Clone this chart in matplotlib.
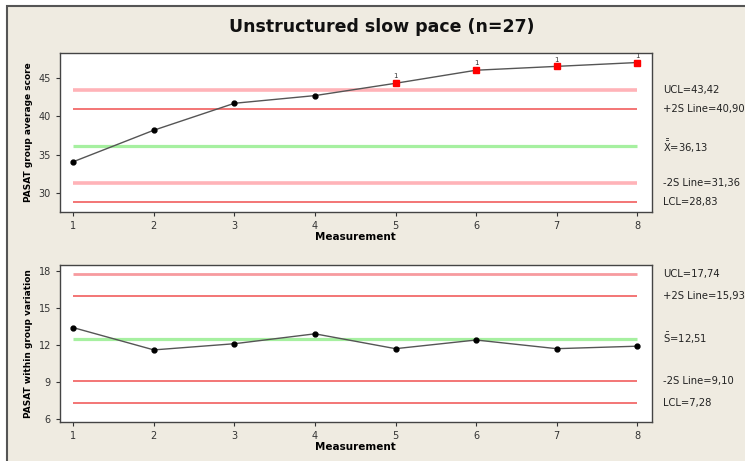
import numpy as np
import matplotlib
matplotlib.use("Agg")
from matplotlib import pyplot as plt
from matplotlib.patches import Rectangle

# Xbar-S chart data, 8 measurements
measurement = [1, 2, 3, 4, 5, 6, 7, 8]
group_mean = [34.1, 38.2, 41.7, 42.7, 44.3, 46.0, 46.5, 47.0]
group_sd = [13.4, 11.6, 12.1, 12.9, 11.7, 12.4, 11.7, 11.9]

# control limits (UCL, +2S, centre, -2S, LCL)
xbar_limits = [43.42, 40.90, 36.13, 31.36, 28.83]
xbar_labels = ["UCL=43,42", "+2S Line=40,90", r"$\bar{\bar{\mathrm{X}}}$=36,13", "-2S Line=31,36", "LCL=28,83"]
s_limits = [17.74, 15.93, 12.51, 9.10, 7.28]
s_labels = ["UCL=17,74", "+2S Line=15,93", r"$\bar{\mathrm{S}}$=12,51", "-2S Line=9,10", "LCL=7,28"]

# points flagged by test 1 on the mean chart
flagged = [5, 6, 7, 8]

bg = "#efebe1"
limit_styles = [("#ffb3b8", 2.6), ("#f26a6a", 1.3), ("#a6f0a0", 2.3), ("#ffb3b8", 2.6), ("#f26a6a", 1.3)]
s_styles = [("#f79a9f", 2.0), ("#f26a6a", 1.3), ("#a6f0a0", 2.3), ("#f26a6a", 1.3), ("#f26a6a", 1.3)]

fig = plt.figure(figsize=(7.45, 4.61), dpi=100, facecolor="white")
fig.patches.append(Rectangle((7 / 745, -0.1), 1.0, 1 - 6 / 461 + 0.1, transform=fig.transFigure,
                             facecolor=bg, edgecolor="#555555", linewidth=1.5, zorder=-1))

fig.text(382 / 745, 1 - 27 / 461, "Unstructured slow pace (n=27)", ha="center", va="center",
         fontsize=12.5, fontweight="bold", color="#111111")


def draw_panel(ax, y, limits, labels, styles, ylim, yticks, ylabel, flags):
    ax.set_facecolor("white")
    for val, (c, lw) in zip(limits, styles):
        ax.plot([1, 8], [val, val], color=c, lw=lw, solid_capstyle="butt", zorder=1)
    for val, lab in zip(limits, labels):
        ax.annotate(lab, xy=(1, val), xycoords=("axes fraction", "data"), xytext=(8, 0),
                    textcoords="offset points", va="center", ha="left", fontsize=7.2,
                    color="#222222", annotation_clip=False)
    ax.plot(measurement, y, color="#555555", lw=1.0, zorder=2)
    normal = [(m, v) for m, v in zip(measurement, y) if m not in flags]
    ax.plot([p[0] for p in normal], [p[1] for p in normal], "o", color="black", ms=3.5, zorder=3)
    for m, v in zip(measurement, y):
        if m in flags:
            ax.plot(m, v, "s", color="red", ms=5, zorder=3)
            ax.text(m, v + 0.5, "1", ha="center", va="bottom", fontsize=5, color="#333333")
    ax.set_xlim(0.835, 8.18)
    ax.set_ylim(*ylim)
    ax.set_xticks(measurement)
    ax.set_yticks(yticks)
    ax.tick_params(labelsize=7, length=3, width=0.8, colors="#333333")
    ax.set_xlabel("Measurement", fontsize=7.5, fontweight="bold", labelpad=1)
    ax.set_ylabel(ylabel, fontsize=6.5, fontweight="bold", labelpad=4)
    for sp in ax.spines.values():
        sp.set_color("#444444")
        sp.set_linewidth(1.0)


ax1 = fig.add_axes([60 / 745, 1 - 211.7 / 461, 591.7 / 745, 158.4 / 461])
draw_panel(ax1, group_mean, xbar_limits, xbar_labels, limit_styles, (27.6, 48.2),
           [30, 35, 40, 45], "PASAT group average score", flagged)

ax2 = fig.add_axes([60 / 745, 1 - 421.7 / 461, 591.7 / 745, 156.7 / 461])
draw_panel(ax2, group_sd, s_limits, s_labels, s_styles, (5.8, 18.46),
           [6, 9, 12, 15, 18], "PASAT within group variation", [])

fig.savefig("out.png", dpi=100, facecolor=fig.get_facecolor())
